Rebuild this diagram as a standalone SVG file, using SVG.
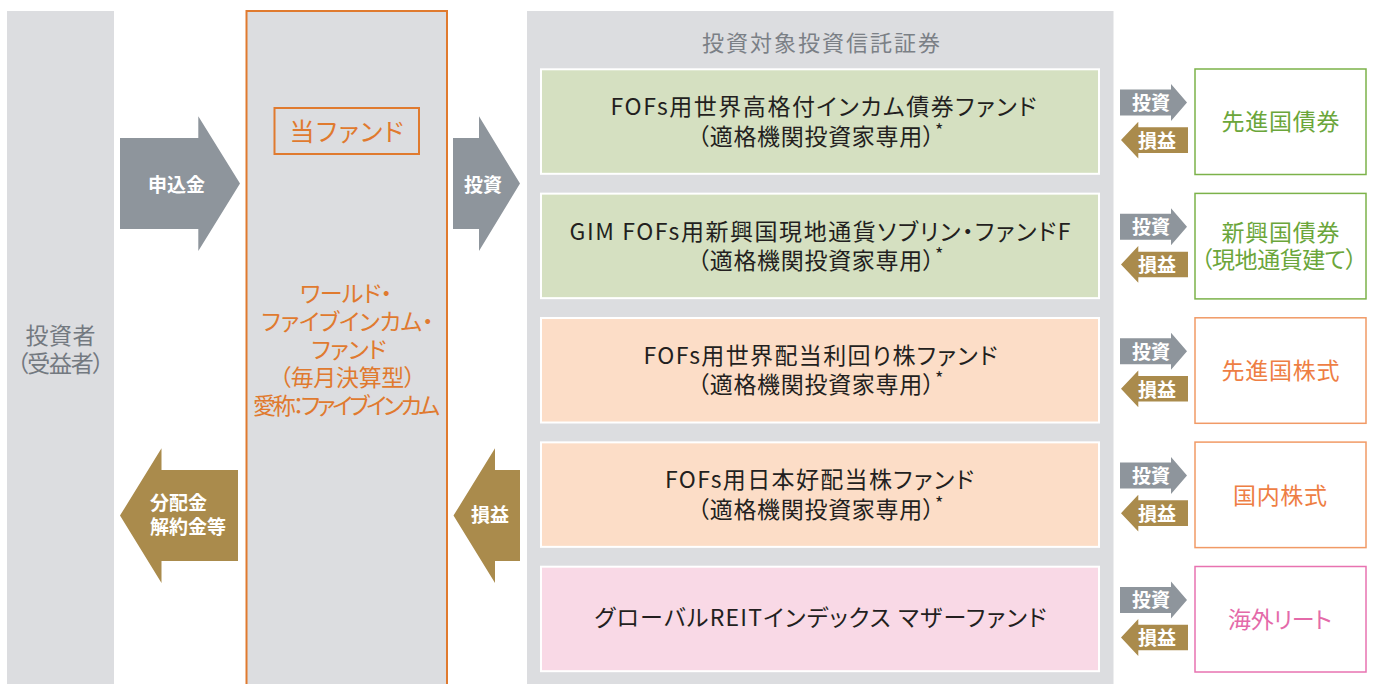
<svg xmlns="http://www.w3.org/2000/svg" xmlns:xlink="http://www.w3.org/1999/xlink" width="1373" height="684" viewBox="0 0 1373 684">
<style>
text{font-family:"Noto Sans CJK JP","Noto Sans",sans-serif;font-feature-settings:"palt" 1;}
.panel{fill:#dcdde0;}
.wlbl{font-weight:700;font-size:19px;fill:#ffffff;text-anchor:middle;}
.gray{fill:#8e959c;}
.gold{fill:#aa8b4c;}
.fund{font-size:23px;fill:#e07a2f;text-anchor:middle;}
.box{stroke:#ffffff;stroke-width:2;}
.green{fill:#d5e0c1;}
.peach{fill:#fcddc7;}
.pink{fill:#f9d9e6;}
.bt{font-size:23px;fill:#231f20;text-anchor:middle;}
.ast{font-size:18px;}
.at{font-size:23px;text-anchor:middle;}
.abox{fill:#ffffff;stroke-width:1.5;}
</style>
<defs>
<path id="sInv" d="M1120,21.2 H1171 V15.7 L1187,34.2 L1171,52.7 V47.2 H1120 Z"/>
<path id="sRet" d="M1188,59 H1138.3 V53.4 L1121,71.8 L1138.3,90.2 V84.6 H1188 Z"/>
</defs>
<rect width="1373" height="684" fill="#ffffff"/>

<g id="investor">
<rect class="panel" x="7" y="11" width="107" height="680"/>
<text x="60.5" y="343.5" font-size="23" fill="#737980" text-anchor="middle" textLength="70" lengthAdjust="spacing">投資者</text>
<text x="60.5" y="371.5" font-size="23" fill="#737980" text-anchor="middle" textLength="87" lengthAdjust="spacing">（受益者）</text>
</g>

<g id="fund">
<rect class="panel" x="246.5" y="11" width="200.5" height="690" stroke="#e07a2f" stroke-width="2"/>
<rect x="274.5" y="108" width="144.5" height="46" fill="none" stroke="#e07a2f" stroke-width="2"/>
<text x="346.6" y="140.5" font-size="25" fill="#e07a2f" text-anchor="middle" textLength="114" lengthAdjust="spacing">当ファンド</text>
<text class="fund" x="346" y="302" textLength="92" lengthAdjust="spacing">ワールド・</text>
<text class="fund" x="347.5" y="330" textLength="172" lengthAdjust="spacing">ファイブインカム・</text>
<text class="fund" x="349" y="358" textLength="75" lengthAdjust="spacing">ファンド</text>
<text class="fund" x="347.5" y="386" textLength="136" lengthAdjust="spacing">（毎月決算型）</text>
<text class="fund" x="346.6" y="414" textLength="187" lengthAdjust="spacing">愛称：ファイブインカム</text>
</g>

<g id="target-panel">
<rect class="panel" x="527" y="11" width="586.5" height="680"/>
<text x="821" y="50.5" font-size="22" fill="#7b8086" text-anchor="middle" textLength="238" lengthAdjust="spacing">投資対象投資信託証券</text>
</g>

<g id="fund-1">
<rect class="box green" x="541" y="69.3" width="558" height="104.5"/>
<text class="bt" x="823.5" y="115" textLength="426" lengthAdjust="spacing">FOFs用世界高格付インカム債券ファンド</text>
<text class="bt" x="820.5" y="144.5" textLength="246" lengthAdjust="spacing">（適格機関投資家専用）<tspan class="ast" dy="-8">*</tspan></text>
</g>
<g id="fund-2">
<rect class="box green" x="541" y="193.65" width="558" height="104.5"/>
<text class="bt" x="820" y="239.5" textLength="501" lengthAdjust="spacing">GIM FOFs用新興国現地通貨ソブリン・ファンドF</text>
<text class="bt" x="820.5" y="268.8" textLength="246" lengthAdjust="spacing">（適格機関投資家専用）<tspan class="ast" dy="-8">*</tspan></text>
</g>
<g id="fund-3">
<rect class="box peach" x="541" y="318" width="558" height="104.5"/>
<text class="bt" x="820.4" y="364" textLength="354" lengthAdjust="spacing">FOFs用世界配当利回り株ファンド</text>
<text class="bt" x="820.5" y="393.3" textLength="246" lengthAdjust="spacing">（適格機関投資家専用）<tspan class="ast" dy="-8">*</tspan></text>
</g>
<g id="fund-4">
<rect class="box peach" x="541" y="442.35" width="558" height="104.5"/>
<text class="bt" x="819.4" y="488.3" textLength="309" lengthAdjust="spacing">FOFs用日本好配当株ファンド</text>
<text class="bt" x="820.5" y="517.6" textLength="246" lengthAdjust="spacing">（適格機関投資家専用）<tspan class="ast" dy="-8">*</tspan></text>
</g>
<g id="fund-5">
<rect class="box pink" x="541" y="566.7" width="558" height="104.5"/>
<text class="bt" x="820.4" y="626" textLength="452" lengthAdjust="spacing">グローバルREITインデックス マザーファンド</text>
</g>

<g id="asset-1">
<rect class="abox" x="1195" y="69" width="171" height="105.5" stroke="#7cb24a"/>
<text class="at" x="1280.5" y="130" fill="#6ba63a" textLength="118" lengthAdjust="spacing">先進国債券</text>
</g>
<g id="asset-2">
<rect class="abox" x="1195" y="193.4" width="171" height="105.5" stroke="#7cb24a"/>
<text class="at" x="1280.5" y="240.5" fill="#6ba63a" textLength="118" lengthAdjust="spacing">新興国債券</text>
<text class="at" x="1279" y="268" fill="#6ba63a" textLength="156" lengthAdjust="spacing">（現地通貨建て）</text>
</g>
<g id="asset-3">
<rect class="abox" x="1195" y="317.8" width="171" height="105.5" stroke="#f19a66"/>
<text class="at" x="1280.5" y="379" fill="#ee7e44" textLength="118" lengthAdjust="spacing">先進国株式</text>
</g>
<g id="asset-4">
<rect class="abox" x="1195" y="442.1" width="171" height="105.5" stroke="#f19a66"/>
<text class="at" x="1280" y="503.5" fill="#ee7e44" textLength="94" lengthAdjust="spacing">国内株式</text>
</g>
<g id="asset-5">
<rect class="abox" x="1195" y="566.5" width="171" height="105.5" stroke="#e873b1"/>
<text class="at" x="1280" y="627.5" fill="#e46aa9" textLength="104" lengthAdjust="spacing">海外リート</text>
</g>

<g id="connectors">
<g id="subscribe">
<polygon class="gray" points="120,138 198.3,138 198.3,116.3 240,183.6 198.3,251 198.3,229 120,229"/>
<text class="wlbl" x="176.5" y="191.5">申込金</text>
</g>
<g id="invest">
<polygon class="gray" points="453,138 479,138 479,116.3 520,183.6 479,251 479,229 453,229"/>
<text class="wlbl" x="483" y="191.5">投資</text>
</g>
<g id="distribution">
<polygon class="gold" points="238,470 161.5,470 161.5,448.3 120,515.6 161.5,583 161.5,561 238,561"/>
<text class="wlbl" x="150" y="510" style="text-anchor:start">分配金</text>
<text class="wlbl" x="150" y="534" style="text-anchor:start">解約金等</text>
</g>
<g id="return">
<polygon class="gold" points="520,470 495,470 495,448.3 453.5,515.6 495,583 495,561 520,561"/>
<text class="wlbl" x="490" y="522">損益</text>
</g>
<g id="row-1" transform="translate(0,68.3)">
<use xlink:href="#sInv" class="gray"/><text class="wlbl" x="1151" y="41.5">投資</text>
<use xlink:href="#sRet" class="gold"/><text class="wlbl" x="1157" y="79.5">損益</text>
</g>
<g id="row-2" transform="translate(0,192.65)">
<use xlink:href="#sInv" class="gray"/><text class="wlbl" x="1151" y="41.5">投資</text>
<use xlink:href="#sRet" class="gold"/><text class="wlbl" x="1157" y="79.5">損益</text>
</g>
<g id="row-3" transform="translate(0,317)">
<use xlink:href="#sInv" class="gray"/><text class="wlbl" x="1151" y="41.5">投資</text>
<use xlink:href="#sRet" class="gold"/><text class="wlbl" x="1157" y="79.5">損益</text>
</g>
<g id="row-4" transform="translate(0,441.35)">
<use xlink:href="#sInv" class="gray"/><text class="wlbl" x="1151" y="41.5">投資</text>
<use xlink:href="#sRet" class="gold"/><text class="wlbl" x="1157" y="79.5">損益</text>
</g>
<g id="row-5" transform="translate(0,565.7)">
<use xlink:href="#sInv" class="gray"/><text class="wlbl" x="1151" y="41.5">投資</text>
<use xlink:href="#sRet" class="gold"/><text class="wlbl" x="1157" y="79.5">損益</text>
</g>
</g>
</svg>
